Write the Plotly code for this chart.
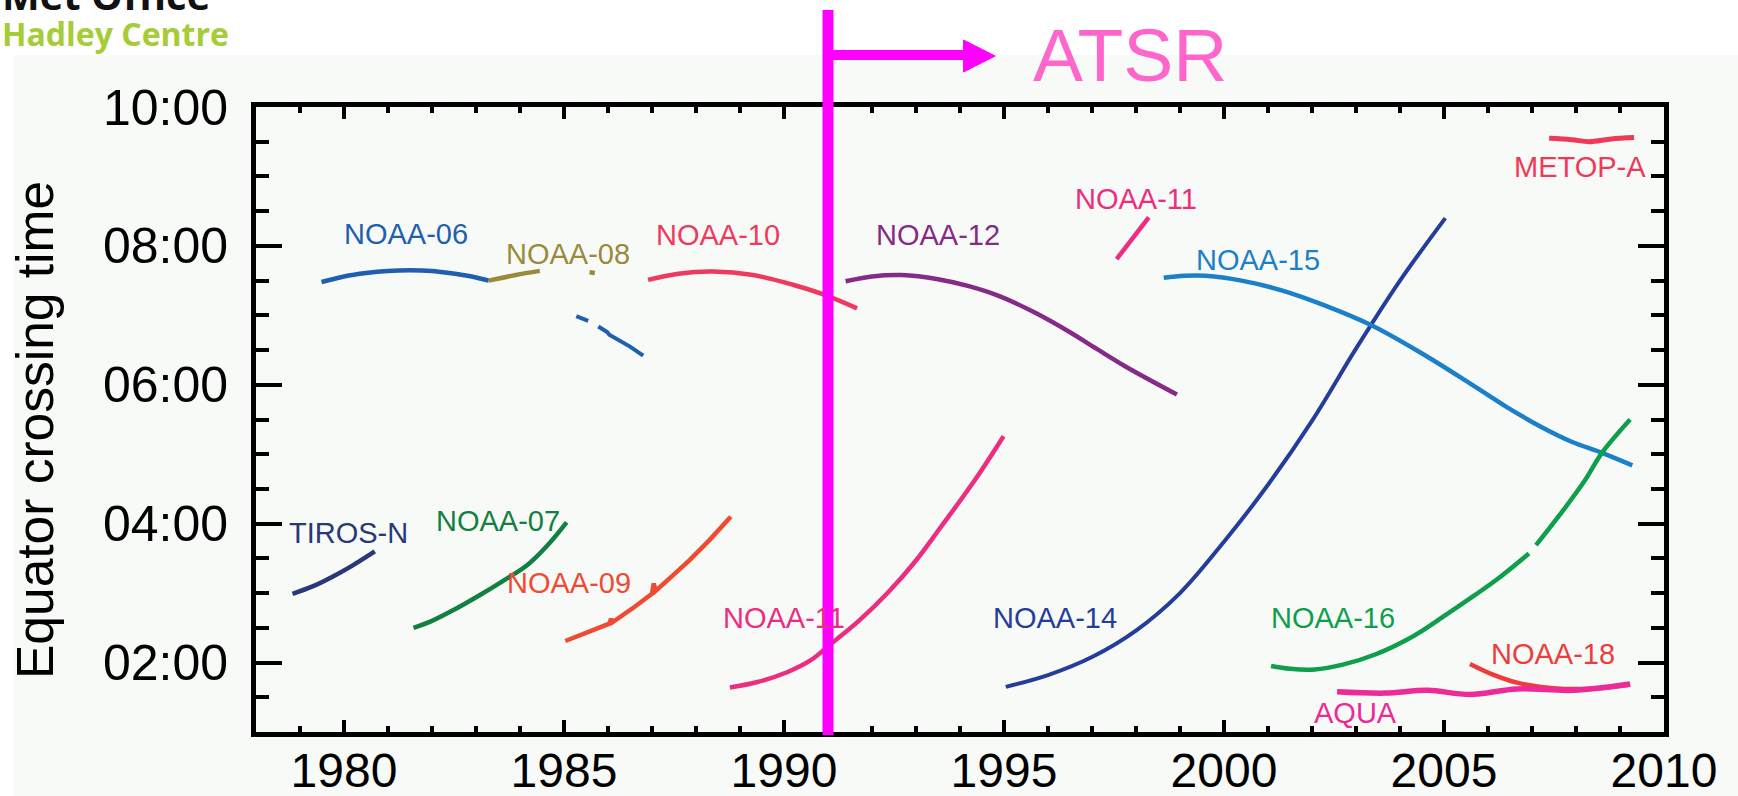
import plotly.graph_objects as go

# ---------------- data ----------------
X_RANGE = [1978, 2010]
Y_RANGE = [1, 10]
x_tick_vals = [1980, 1985, 1990, 1995, 2000, 2005, 2010]
y_tick_vals = [2, 4, 6, 8, 10]
y_tick_text = ["02:00", "04:00", "06:00", "08:00", "10:00"]

tiros_n_x = [1978.83, 1979.3, 1979.75, 1980.2, 1980.70]
tiros_n_y = [2.99, 3.10, 3.24, 3.40, 3.60]

noaa06_x = [1979.49, 1980.0, 1980.5, 1981.0, 1981.49, 1982.0, 1982.4, 1982.9, 1983.29]
noaa06_y = [7.48, 7.56, 7.61, 7.64, 7.65, 7.64, 7.61, 7.56, 7.50]
noaa06b_x = [1985.28, 1985.55, None, 1985.78, 1985.98, 1986.03, 1986.2, 1986.5, 1986.8]
noaa06b_y = [6.99, 6.92, None, 6.84, 6.76, 6.72, 6.66, 6.55, 6.42]

noaa07_x = [1981.58, 1982.0, 1982.5, 1983.11, 1983.6, 1984.16, 1984.6, 1985.06]
noaa07_y = [2.50, 2.60, 2.76, 2.98, 3.17, 3.40, 3.67, 4.02]

noaa08_x = [1983.29, 1983.9, 1984.45, None, 1985.58, 1985.70]
noaa08_y = [7.50, 7.58, 7.64, None, 7.62, 7.61]

noaa09_x = [1985.03, 1985.6, 1986.03, 1986.07, 1986.10, 1986.6, 1987.0, 1987.04, 1987.08, 1987.45, 1987.86, 1988.3, 1988.79]
noaa09_y = [2.31, 2.45, 2.56, 2.63, 2.58, 2.80, 2.99, 3.14, 3.03, 3.24, 3.48, 3.76, 4.10]

noaa10_x = [1986.91, 1987.6, 1988.39, 1989.3, 1990.2, 1990.94, 1991.66]
noaa10_y = [7.51, 7.60, 7.63, 7.58, 7.44, 7.29, 7.10]

noaa11_x = [1988.77, 1989.4, 1990.07, 1990.6, 1991.05, 1991.7, 1992.38, 1993.0, 1993.54, 1994.35, 1994.99,
            None, 1997.56, 1998.29]
noaa11_y = [1.64, 1.72, 1.86, 2.03, 2.26, 2.60, 3.02, 3.47, 3.93, 4.64, 5.26,
            None, 7.81, 8.41]

noaa12_x = [1991.40, 1992.0, 1992.68, 1993.5, 1994.2, 1994.88, 1995.7, 1996.49, 1997.1, 1997.77, 1998.93]
noaa12_y = [7.49, 7.56, 7.58, 7.52, 7.42, 7.28, 7.04, 6.76, 6.52, 6.26, 5.86]

noaa14_x = [1995.04, 1996.0, 1997.0, 1998.0, 1999.0, 2000.0, 2001.0, 2002.0, 2003.0, 2004.0, 2005.03]
noaa14_y = [1.65, 1.82, 2.08, 2.46, 3.00, 3.74, 4.56, 5.48, 6.52, 7.50, 8.40]

noaa15_x = [1998.63, 1999.1, 1999.59, 2000.4, 2001.31, 2002.3, 2003.34, 2004.5, 2005.59, 2006.4, 2007.19,
            2007.9, 2008.59, 2009.28]
noaa15_y = [7.54, 7.57, 7.57, 7.50, 7.36, 7.14, 6.86, 6.45, 6.02, 5.69, 5.40,
            5.18, 5.02, 4.84]

noaa16_x = [2001.07, 2001.5, 2002.06, 2002.7, 2003.45, 2004.3, 2005.05, 2005.7, 2006.23, 2006.93,
            None, 2007.09, 2007.73, 2008.2, 2008.59, 2009.23]
noaa16_y = [1.95, 1.91, 1.90, 1.97, 2.12, 2.38, 2.69, 2.97, 3.21, 3.57,
            None, 3.69, 4.21, 4.62, 5.02, 5.50]

noaa18_x = [2005.59, 2006.1, 2006.66, 2007.2, 2007.73, 2008.5, 2009.23]
noaa18_y = [1.98, 1.83, 1.71, 1.65, 1.62, 1.63, 1.68]

aqua_x = [2002.57, 2003.66, 2004.63, 2005.59, 2006.66, 2007.94, 2009.23]
aqua_y = [1.58, 1.56, 1.60, 1.54, 1.62, 1.60, 1.69]

metop_x = [2007.39, 2007.9, 2008.30, 2008.8, 2009.32]
metop_y = [9.55, 9.53, 9.50, 9.54, 9.56]

label_names = ["TIROS-N", "NOAA-06", "NOAA-07", "NOAA-08", "NOAA-09", "NOAA-10", "NOAA-11",
               "NOAA-12", "NOAA-11", "NOAA-14", "NOAA-15", "NOAA-16", "NOAA-18", "AQUA", "METOP-A"]
label_x = [1980.10, 1981.41, 1983.50, 1985.08, 1985.11, 1988.50, 1989.99,
           1993.51, 1997.99, 1996.15, 2000.77, 2002.48, 2007.48, 2002.98, 2008.08]
label_y = [3.87, 8.17, 4.04, 7.89, 3.14, 8.16, 2.64,
           8.16, 8.68, 2.64, 7.80, 2.64, 2.13, 1.28, 9.14]

ATSR_YEAR = 1991.0
ATSR_ARROW_END = 1994.8
ATSR_TEXT_X = 1997.86

# ---------------- styles ----------------
C = {
    "TIROS-N": "#283878", "NOAA-06": "#1f5fb0", "NOAA-07": "#128040", "NOAA-08": "#9a8a3c",
    "NOAA-09": "#f04a32", "NOAA-10": "#ee3a5c", "NOAA-11": "#ec2d80", "NOAA-12": "#862a88",
    "NOAA-14": "#253d9a", "NOAA-15": "#1b80c8", "NOAA-16": "#0e9e4c", "NOAA-18": "#ee3c3c",
    "AQUA": "#ec2a98", "METOP-A": "#ee3a58",
}
FONT = "Liberation Sans, Arial, sans-serif"

series = [
    ("TIROS-N", tiros_n_x, tiros_n_y, "spline", 4.5),
    ("NOAA-06", noaa06_x, noaa06_y, "spline", 4.5),
    ("NOAA-06", noaa06b_x, noaa06b_y, "linear", 4.0),
    ("NOAA-07", noaa07_x, noaa07_y, "spline", 4.5),
    ("NOAA-08", noaa08_x, noaa08_y, "spline", 4.5),
    ("NOAA-09", noaa09_x, noaa09_y, "linear", 4.5),
    ("NOAA-10", noaa10_x, noaa10_y, "spline", 4.5),
    ("NOAA-11", noaa11_x, noaa11_y, "spline", 4.5),
    ("NOAA-12", noaa12_x, noaa12_y, "spline", 4.5),
    ("NOAA-14", noaa14_x, noaa14_y, "spline", 4.0),
    ("NOAA-15", noaa15_x, noaa15_y, "spline", 4.5),
    ("NOAA-16", noaa16_x, noaa16_y, "spline", 4.5),
    ("NOAA-18", noaa18_x, noaa18_y, "spline", 4.5),
    ("AQUA", aqua_x, aqua_y, "spline", 5.5),
    ("METOP-A", metop_x, metop_y, "spline", 5.0),
]

fig = go.Figure()
for name, xs, ys, shape, w in series:
    line = dict(color=C[name], width=w, shape=shape)
    if shape == "spline":
        line["smoothing"] = 1.0
    fig.add_trace(go.Scatter(x=xs, y=ys, mode="lines", line=line, name=name,
                             connectgaps=False, hoverinfo="skip"))

# layout geometry
W, H = 1738, 796
ML, MR, MT, MB = 256, 74, 107, 64
PW, PH = W - ML - MR, H - MT - MB


def pxx(px):
    return (px - ML) / PW


def pxy(py):
    return (H - MB - py) / PH


annotations = []
for n, x, y in zip(label_names, label_x, label_y):
    annotations.append(dict(x=x, y=y, xref="x", yref="y", text=n, showarrow=False,
                            font=dict(family=FONT, size=29, color=C[n]),
                            xanchor="center", yanchor="middle"))

# y title
annotations.append(dict(x=pxx(35), y=pxy(430), xref="paper", yref="paper",
                        text="Equator crossing time", textangle=-90, showarrow=False,
                        font=dict(family=FONT, size=51.5, color="black"),
                        xanchor="center", yanchor="middle"))
# ATSR text
annotations.append(dict(x=ATSR_TEXT_X, y=pxy(55), xref="x", yref="paper", text="ATSR",
                        showarrow=False, font=dict(family=FONT, size=75, color="#ff66cc"),
                        xanchor="center", yanchor="middle"))
# logo (one text block, two lines)
annotations.append(dict(x=pxx(0), y=pxy(57), xref="paper", yref="paper",
                        text=("<span style='font-size:40px;color:#111111'><b>Met Office</b></span><br>"
                              "<span style='font-size:32px;color:#a6cc38'><b>Hadley Centre</b></span>"),
                        showarrow=False, align="left",
                        font=dict(family="Open Sans, sans-serif", size=28, color="#a6cc38"),
                        xanchor="left", yanchor="bottom"))

shapes = [
    dict(type="rect", xref="paper", yref="paper", x0=pxx(13), x1=pxx(W + 5), y0=pxy(H + 5), y1=pxy(55),
         fillcolor="#f8faf8", line=dict(width=0), layer="below"),
    dict(type="line", xref="x", yref="paper", x0=ATSR_YEAR, x1=ATSR_YEAR, y0=pxy(735), y1=pxy(10),
         line=dict(color="#ff00ff", width=11), layer="above"),
    dict(type="line", xref="x", yref="paper", x0=ATSR_YEAR, x1=ATSR_ARROW_END - 0.6, y0=pxy(55), y1=pxy(55),
         line=dict(color="#ff00ff", width=10), layer="above"),
    dict(type="path", xref="x", yref="paper",
         path=f"M {ATSR_ARROW_END - 0.72},{pxy(40)} L {ATSR_ARROW_END},{pxy(56)} L {ATSR_ARROW_END - 0.72},{pxy(72)} Z",
         fillcolor="#ff00ff", line=dict(color="#ff00ff", width=1), layer="above"),
]

axis_common = dict(showline=True, linewidth=5, linecolor="black", mirror="ticks", ticks="inside",
                   tickcolor="black", showgrid=False, zeroline=False, automargin=False)

fig.update_layout(
    width=W, height=H,
    margin=dict(l=ML, r=MR, t=MT, b=MB, pad=0),
    paper_bgcolor="white", plot_bgcolor="#f8faf8",
    showlegend=False,
    xaxis=dict(range=X_RANGE, tickmode="array", tickvals=x_tick_vals, ticklen=12, tickwidth=4,
               ticklabelstandoff=-8, tickfont=dict(family=FONT, size=48, color="black"),
               minor=dict(tickmode="linear", tick0=1978, dtick=1, ticks="inside", ticklen=6,
                          tickwidth=4, tickcolor="black", showgrid=False),
               **axis_common),
    yaxis=dict(range=Y_RANGE, tickmode="array", tickvals=y_tick_vals, ticktext=y_tick_text,
               ticklen=26, tickwidth=4, ticklabelstandoff=13,
               tickfont=dict(family=FONT, size=50, color="black"),
               minor=dict(tickmode="linear", tick0=0, dtick=0.5, ticks="inside", ticklen=13,
                          tickwidth=4, tickcolor="black", showgrid=False),
               **axis_common),
    annotations=annotations,
    shapes=shapes,
)

fig.write_html("out.html")
